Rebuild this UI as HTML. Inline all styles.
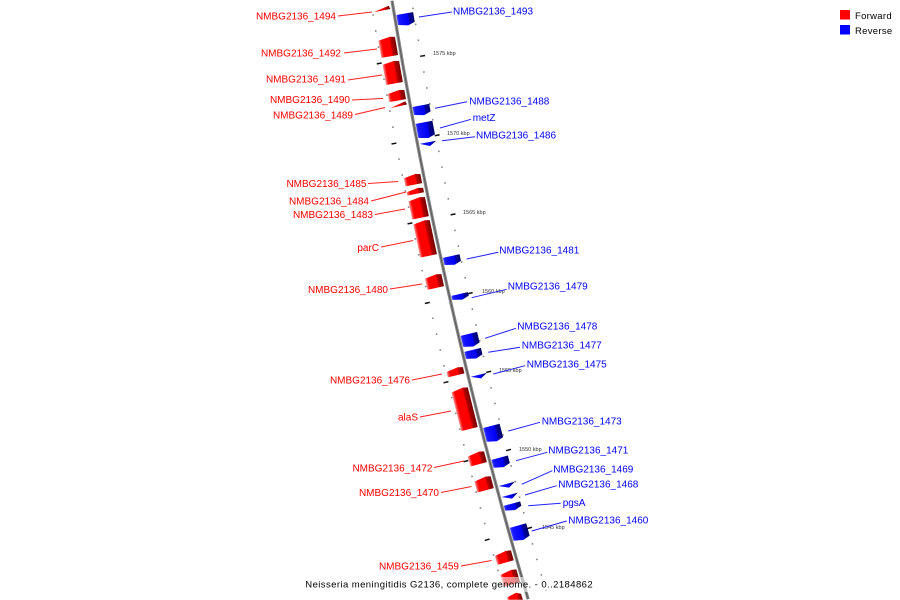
<!DOCTYPE html>
<html><head><meta charset="utf-8"><style>
html,body{margin:0;padding:0;background:#fff;width:900px;height:600px;overflow:hidden;}
svg{display:block;overflow:hidden;}
.lr{font-family:"Liberation Sans",sans-serif;font-size:10px;fill:#ff0000;text-anchor:end;}
.lb{font-family:"Liberation Sans",sans-serif;font-size:10px;fill:#0000ff;}
.kb{font-family:"Liberation Sans",sans-serif;font-size:5.5px;fill:#333;}
</style></head><body>
<svg width="900" height="600" viewBox="0 0 900 600" xmlns="http://www.w3.org/2000/svg">
<defs>
<linearGradient id="rg" x1="0" y1="0" x2="1" y2="0">
<stop offset="0" stop-color="#ff9c9c"/><stop offset="0.1" stop-color="#ff3a3a"/><stop offset="0.18" stop-color="#ff0000"/><stop offset="0.66" stop-color="#ff0000"/><stop offset="0.7" stop-color="#c00000"/><stop offset="1" stop-color="#700000"/>
</linearGradient>
<linearGradient id="bg" x1="0" y1="0" x2="1" y2="0">
<stop offset="0" stop-color="#5050ff"/><stop offset="0.12" stop-color="#1515ff"/><stop offset="0.66" stop-color="#0000f5"/><stop offset="0.7" stop-color="#0000a8"/><stop offset="1" stop-color="#000068"/>
</linearGradient>
<g id="mn"><rect x="347.0" y="-788.6" width="1.6" height="1.6" fill="#888"/><rect x="306.5" y="-788.6" width="1.6" height="1.6" fill="#888"/></g>
<g id="mi"><rect x="347.0" y="-788.6" width="1.6" height="1.6" fill="#888"/></g>
<g id="mj"><rect x="346.8" y="-788.55" width="5" height="1.5" fill="#111"/><rect x="302.8" y="-788.55" width="5" height="1.5" fill="#111"/></g>
</defs>
<rect width="900" height="600" fill="#fff"/>

<!-- backbone -->
<path d="M392.0,0.8 A4913,4913 0 0 0 528.15,599.2" fill="none" stroke="#8a8a8a" stroke-width="3.2"/>
<path d="M392.0,0.8 A4913,4913 0 0 0 528.15,599.2" fill="none" stroke="#5e5e5e" stroke-width="1.1"/>

<!-- minor ticks -->
<use href="#mn" transform="rotate(-9.364 5241.3 -787.8)"/>
<use href="#mn" transform="rotate(-9.553 5241.3 -787.8)"/>
<use href="#mn" transform="rotate(-9.742 5241.3 -787.8)"/>
<use href="#mn" transform="rotate(-10.120 5241.3 -787.8)"/>
<use href="#mn" transform="rotate(-10.309 5241.3 -787.8)"/>
<use href="#mn" transform="rotate(-10.498 5241.3 -787.8)"/>
<use href="#mn" transform="rotate(-10.687 5241.3 -787.8)"/>
<use href="#mn" transform="rotate(-11.065 5241.3 -787.8)"/>
<use href="#mn" transform="rotate(-11.254 5241.3 -787.8)"/>
<use href="#mn" transform="rotate(-11.443 5241.3 -787.8)"/>
<use href="#mn" transform="rotate(-11.632 5241.3 -787.8)"/>
<use href="#mn" transform="rotate(-12.010 5241.3 -787.8)"/>
<use href="#mn" transform="rotate(-12.199 5241.3 -787.8)"/>
<use href="#mn" transform="rotate(-12.388 5241.3 -787.8)"/>
<use href="#mn" transform="rotate(-12.577 5241.3 -787.8)"/>
<use href="#mn" transform="rotate(-12.955 5241.3 -787.8)"/>
<use href="#mn" transform="rotate(-13.144 5241.3 -787.8)"/>
<use href="#mn" transform="rotate(-13.333 5241.3 -787.8)"/>
<use href="#mn" transform="rotate(-13.522 5241.3 -787.8)"/>
<use href="#mn" transform="rotate(-13.901 5241.3 -787.8)"/>
<use href="#mn" transform="rotate(-14.090 5241.3 -787.8)"/>
<use href="#mn" transform="rotate(-14.279 5241.3 -787.8)"/>
<use href="#mn" transform="rotate(-14.468 5241.3 -787.8)"/>
<use href="#mn" transform="rotate(-14.846 5241.3 -787.8)"/>
<use href="#mn" transform="rotate(-15.035 5241.3 -787.8)"/>
<use href="#mn" transform="rotate(-15.224 5241.3 -787.8)"/>
<use href="#mn" transform="rotate(-15.413 5241.3 -787.8)"/>
<use href="#mn" transform="rotate(-15.791 5241.3 -787.8)"/>
<use href="#mn" transform="rotate(-15.980 5241.3 -787.8)"/>
<use href="#mn" transform="rotate(-16.169 5241.3 -787.8)"/>
<use href="#mi" transform="rotate(-16.358 5241.3 -787.8)"/>
<!-- major ticks -->
<use href="#mj" transform="rotate(-9.931 5241.3 -787.8)"/>
<use href="#mj" transform="rotate(-10.876 5241.3 -787.8)"/>
<use href="#mj" transform="rotate(-11.821 5241.3 -787.8)"/>
<use href="#mj" transform="rotate(-12.766 5241.3 -787.8)"/>
<use href="#mj" transform="rotate(-13.712 5241.3 -787.8)"/>
<use href="#mj" transform="rotate(-14.657 5241.3 -787.8)"/>
<use href="#mj" transform="rotate(-15.602 5241.3 -787.8)"/>

<!-- forward features (red) -->
<g fill="url(#rg)">
<g transform="rotate(-9.322 5241.3 -787.8) translate(328.3 -787.8)"><polygon points="-20,1 -4,-3 -3,0.5"/></g>
<g transform="rotate(-9.759 5241.3 -787.8) translate(328.3 -787.8)"><polygon points="-20,-7.7 -8,-9.7 -3,-8.7 -3,9.7 -20,9.7"/></g>
<g transform="rotate(-10.061 5241.3 -787.8) translate(328.3 -787.8)"><polygon points="-20,-9.2 -8,-11.2 -3,-10.2 -3,11.2 -20,11.2"/></g>
<g transform="rotate(-10.334 5241.3 -787.8) translate(328.3 -787.8)"><polygon points="-20,-3.1 -8,-5.1 -3,-4.1 -3,5.1 -20,5.1"/></g>
<g transform="rotate(-10.452 5241.3 -787.8) translate(328.3 -787.8)"><polygon points="-20,1 -4,-3 -3,0.5"/></g>
<g transform="rotate(-11.331 5241.3 -787.8) translate(328.3 -787.8)"><polygon points="-20,-3.1 -8,-5.1 -3,-4.1 -3,5.1 -20,5.1"/></g>
<g transform="rotate(-11.468 5241.3 -787.8) translate(328.3 -787.8)"><polygon points="-20,-0.75 -8,-2.75 -3,-1.75 -3,2.75 -20,2.75"/></g>
<g transform="rotate(-11.664 5241.3 -787.8) translate(328.3 -787.8)"><polygon points="-20,-8.2 -8,-10.2 -3,-9.2 -3,10.2 -20,10.2"/></g>
<g transform="rotate(-12.028 5241.3 -787.8) translate(328.3 -787.8)"><polygon points="-20,-15.85 -8,-17.85 -3,-16.85 -3,17.85 -20,17.85"/></g>
<g transform="rotate(-12.541 5241.3 -787.8) translate(328.3 -787.8)"><polygon points="-20,-4.65 -8,-6.65 -3,-5.65 -3,6.65 -20,6.65"/></g>
<g transform="rotate(-13.619 5241.3 -787.8) translate(328.3 -787.8)"><polygon points="-20,-1.75 -8,-3.75 -3,-2.75 -3,3.75 -20,3.75"/></g>
<g transform="rotate(-14.063 5241.3 -787.8) translate(328.3 -787.8)"><polygon points="-20,-18.9 -8,-20.9 -3,-19.9 -3,20.9 -20,20.9"/></g>
<g transform="rotate(-14.659 5241.3 -787.8) translate(328.3 -787.8)"><polygon points="-20,-4.1 -8,-6.1 -3,-5.1 -3,6.1 -20,6.1"/></g>
<g transform="rotate(-14.966 5241.3 -787.8) translate(328.3 -787.8)"><polygon points="-20,-4.65 -8,-6.65 -3,-5.65 -3,6.65 -20,6.65"/></g>
<g transform="rotate(-15.850 5241.3 -787.8) translate(328.3 -787.8)"><polygon points="-20,-3.6 -8,-5.6 -3,-4.6 -3,5.6 -20,5.6"/></g>
<g transform="rotate(-16.098 5241.3 -787.8) translate(328.3 -787.8)"><polygon points="-20,-5.15 -8,-7.15 -3,-6.15 -3,7.15 -20,7.15"/></g>
<polygon points="507,597.5 516,592.8 521,593.8 522.9,599.8 507.7,599.8"/>
</g>

<!-- reverse features (blue) -->
<g fill="url(#bg)">
<g transform="rotate(-9.479 5241.3 -787.8) translate(328.3 -787.8)"><polygon points="2,-6.1 19,-6.1 19,3.6 12,6.1 2,4.1"/></g>
<g transform="rotate(-10.557 5241.3 -787.8) translate(328.3 -787.8)"><polygon points="2,-5.1 19,-5.1 19,2.6 12,5.1 2,3.1"/></g>
<g transform="rotate(-10.794 5241.3 -787.8) translate(328.3 -787.8)"><polygon points="2,-8.15 19,-8.15 19,5.65 12,8.15 2,6.15"/></g>
<g transform="rotate(-10.954 5241.3 -787.8) translate(328.3 -787.8)"><polygon points="2,-1.5 19,-1.5 12,2.5"/></g>
<g transform="rotate(-12.348 5241.3 -787.8) translate(328.3 -787.8)"><polygon points="2,-4.6 19,-4.6 19,2.1 12,4.6 2,2.6"/></g>
<g transform="rotate(-12.784 5241.3 -787.8) translate(328.3 -787.8)"><polygon points="2,-3.05 19,-3.05 19,0.55 12,3.05 2,1.05"/></g>
<g transform="rotate(-13.304 5241.3 -787.8) translate(328.3 -787.8)"><polygon points="2,-6.65 19,-6.65 19,4.15 12,6.65 2,4.65"/></g>
<g transform="rotate(-13.472 5241.3 -787.8) translate(328.3 -787.8)"><polygon points="2,-4.6 19,-4.6 19,2.1 12,4.6 2,2.6"/></g>
<g transform="rotate(-13.736 5241.3 -787.8) translate(328.3 -787.8)"><polygon points="2,-1.5 19,-1.5 12,2.5"/></g>
<g transform="rotate(-14.428 5241.3 -787.8) translate(328.3 -787.8)"><polygon points="2,-8.15 19,-8.15 19,5.65 12,8.15 2,6.15"/></g>
<g transform="rotate(-14.777 5241.3 -787.8) translate(328.3 -787.8)"><polygon points="2,-5.1 19,-5.1 19,2.6 12,5.1 2,3.1"/></g>
<g transform="rotate(-15.055 5241.3 -787.8) translate(328.3 -787.8)"><polygon points="2,-1.8 19,-1.8 12,2.5"/></g>
<g transform="rotate(-15.188 5241.3 -787.8) translate(328.3 -787.8)"><polygon points="2,-1.8 19,-1.8 12,2.5"/></g>
<g transform="rotate(-15.314 5241.3 -787.8) translate(328.3 -787.8)"><polygon points="2,-3.5 19,-3.5 19,1 12,3.5 2,1.5"/></g>
<g transform="rotate(-15.629 5241.3 -787.8) translate(328.3 -787.8)"><polygon points="2,-7.65 19,-7.65 19,5.15 12,7.65 2,5.65"/></g>
</g>

<!-- kbp labels -->
<text class="kb" x="433" y="55">1575 kbp</text>
<text class="kb" x="447" y="135">1570 kbp</text>
<text class="kb" x="463" y="214">1565 kbp</text>
<text class="kb" x="482" y="293">1560 kbp</text>
<text class="kb" x="499" y="372">1555 kbp</text>
<text class="kb" x="519" y="451">1550 kbp</text>
<text class="kb" x="542" y="529">1545 kbp</text>

<!-- label lines -->
<g stroke="#ff2020" stroke-width="1" fill="none">
<line x1="338" y1="16" x2="372" y2="12"/>
<line x1="344" y1="53" x2="377" y2="49"/>
<line x1="348" y1="80" x2="382" y2="75"/>
<line x1="352" y1="100" x2="383" y2="98.5"/>
<line x1="355" y1="114.5" x2="385" y2="107.5"/>
<line x1="368" y1="183.5" x2="398" y2="181.5"/>
<line x1="371" y1="201" x2="406" y2="192"/>
<line x1="375" y1="214.5" x2="405" y2="209"/>
<line x1="381" y1="247" x2="413" y2="240.5"/>
<line x1="390" y1="289" x2="422" y2="284"/>
<line x1="412" y1="380" x2="442" y2="374"/>
<line x1="420" y1="417" x2="451" y2="411"/>
<line x1="434" y1="467.5" x2="464" y2="461"/>
<line x1="441" y1="492.5" x2="471.5" y2="486.5"/>
<line x1="461" y1="566" x2="491.5" y2="560.5"/>
</g>
<g stroke="#2020ff" stroke-width="1" fill="none">
<line x1="419" y1="17" x2="452" y2="12"/>
<line x1="435" y1="108.3" x2="467" y2="101.7"/>
<line x1="440" y1="128" x2="471" y2="119.3"/>
<line x1="442" y1="140.7" x2="475" y2="136.7"/>
<line x1="466.7" y1="259" x2="498.3" y2="252.3"/>
<line x1="471.7" y1="297.7" x2="506.7" y2="289.3"/>
<line x1="485" y1="338.3" x2="516" y2="328.3"/>
<line x1="488.3" y1="352.3" x2="520" y2="347.3"/>
<line x1="493.3" y1="374" x2="525" y2="365.7"/>
<line x1="508.3" y1="431" x2="540" y2="422.3"/>
<line x1="516" y1="460.7" x2="547.3" y2="452.3"/>
<line x1="521.7" y1="484.3" x2="552.3" y2="470.7"/>
<line x1="525" y1="495" x2="556.7" y2="485.7"/>
<line x1="528.3" y1="505.7" x2="560.7" y2="503.3"/>
<line x1="531.7" y1="531" x2="566.7" y2="521"/>
</g>

<!-- red labels -->
<text class="lr" x="336" y="19.6">NMBG2136_1494</text>
<text class="lr" x="341" y="56.7">NMBG2136_1492</text>
<text class="lr" x="346" y="82.6">NMBG2136_1491</text>
<text class="lr" x="350" y="103.1">NMBG2136_1490</text>
<text class="lr" x="353" y="118.6">NMBG2136_1489</text>
<text class="lr" x="366.5" y="186.9">NMBG2136_1485</text>
<text class="lr" x="369" y="204.3">NMBG2136_1484</text>
<text class="lr" x="373" y="217.9">NMBG2136_1483</text>
<text class="lr" x="379" y="250.9">parC</text>
<text class="lr" x="388" y="292.9">NMBG2136_1480</text>
<text class="lr" x="410" y="383.6">NMBG2136_1476</text>
<text class="lr" x="418" y="420.6">alaS</text>
<text class="lr" x="432.5" y="471.3">NMBG2136_1472</text>
<text class="lr" x="439" y="495.9">NMBG2136_1470</text>
<text class="lr" x="459" y="569.6">NMBG2136_1459</text>

<!-- blue labels -->
<text class="lb" x="453" y="14.3">NMBG2136_1493</text>
<text class="lb" x="469.3" y="104.3">NMBG2136_1488</text>
<text class="lb" x="472.7" y="120.9">metZ</text>
<text class="lb" x="476" y="138.6">NMBG2136_1486</text>
<text class="lb" x="499.3" y="253.6">NMBG2136_1481</text>
<text class="lb" x="507.7" y="289.6">NMBG2136_1479</text>
<text class="lb" x="517.3" y="329.6">NMBG2136_1478</text>
<text class="lb" x="521.7" y="348.6">NMBG2136_1477</text>
<text class="lb" x="526.7" y="367.6">NMBG2136_1475</text>
<text class="lb" x="541.7" y="424.3">NMBG2136_1473</text>
<text class="lb" x="548.3" y="453.6">NMBG2136_1471</text>
<text class="lb" x="553.3" y="472.6">NMBG2136_1469</text>
<text class="lb" x="558.3" y="487.6">NMBG2136_1468</text>
<text class="lb" x="562.7" y="505.9">pgsA</text>
<text class="lb" x="568.3" y="523.6">NMBG2136_1460</text>

<!-- title -->
<rect x="303" y="577" width="294" height="15" fill="#fff" fill-opacity="0.55"/>
<text x="305.3" y="587.6" font-family="Liberation Sans, sans-serif" font-size="9.5" letter-spacing="0.42" fill="#000">Neisseria meningitidis G2136, complete genome. - 0..2184862</text>

<!-- legend -->
<rect x="840" y="10" width="10" height="9.5" fill="#ff0000"/>
<text x="855" y="19" font-family="Liberation Sans, sans-serif" font-size="9.5" letter-spacing="0.3" fill="#000">Forward</text>
<rect x="840" y="25" width="10" height="9.5" fill="#0000ff"/>
<text x="855" y="34" font-family="Liberation Sans, sans-serif" font-size="9.5" letter-spacing="0.3" fill="#000">Reverse</text>
</svg>
</body></html>
